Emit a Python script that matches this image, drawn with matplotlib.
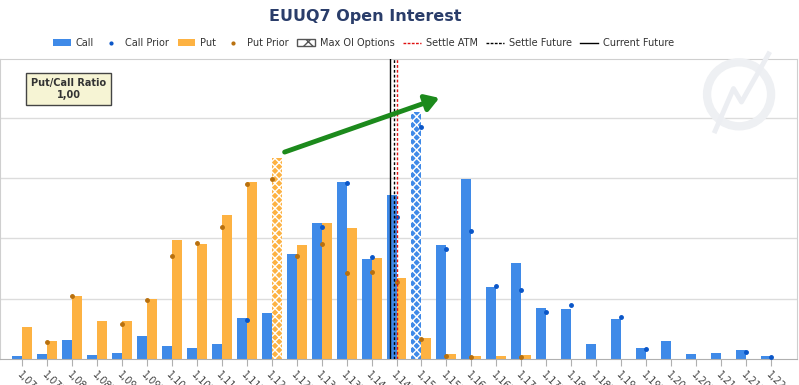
import numpy as np
import matplotlib
matplotlib.use("Agg")
import matplotlib.pyplot as plt
from matplotlib.patches import Patch, Ellipse, FancyArrowPatch
from matplotlib.lines import Line2D

# strikes and open interest (contracts)
strikes = np.round(np.arange(1.070, 1.2201, 0.005), 3)

call_oi = [40, 75, 310, 55, 90, 380, 210, 175, 245, 675, 760,
           1740, 2255, 2940, 1660, 2725, 4100, 1885, 2985, 1185, 1590,
           840, 825, 240, 665, 175, 295, 75, 90, 140, 50]
call_prior = [np.nan, np.nan, np.nan, np.nan, np.nan, np.nan, np.nan, np.nan, np.nan, 645, np.nan,
              np.nan, 2185, 2925, 1685, 2350, 3850, 1825, 2130, 1210, 1135,
              775, 885, np.nan, 690, 160, np.nan, np.nan, np.nan, 115, 35]
put_oi = [535, 295, 1035, 625, 625, 990, 1975, 1905, 2385, 2935, 3340,
          1885, 2255, 2175, 1680, 1340, 350, 80, 50, 50, 55,
          0, 0, 0, 0, 0, 0, 0, 0, 0, 0]
put_prior = [np.nan, 285, 1050, np.nan, 575, 980, 1700, 1925, 2190, 2905, 2995,
             1700, 1910, 1425, 1450, 1280, 335, 45, 35, np.nan, 35,
             np.nan, np.nan, np.nan, np.nan, np.nan, np.nan, np.nan, np.nan, np.nan, np.nan]

settle_atm = 1.145
settle_future = 1.1444
current_future = 1.1436
pc_ratio = "1,00"

call_c = "#3f8ae8"
put_c = "#fdb242"
callp_c = "#0a56c8"
putp_c = "#b8700e"

fig = plt.figure(figsize=(7.99, 3.85), dpi=100)
ax = fig.add_axes([0.0, 0.0683, 0.9975, 0.7785])
ax.patch.set_alpha(0)

w = 0.002
calls = ax.bar(strikes, call_oi, width=-w, align="edge", color=call_c, zorder=2)
puts = ax.bar(strikes, put_oi, width=w, align="edge", color=put_c, zorder=2)

# max OI bars get the cross hatch
for bars in (calls, puts):
    vals = [b.get_height() for b in bars]
    b = bars[int(np.argmax(vals))]
    b.set_hatch("xxxx")
    b.set_edgecolor("white")
    b.set_linewidth(0)

ax.plot(strikes, call_prior, ".", color=callp_c, ms=5, zorder=3)
ax.plot(strikes, put_prior, ".", color=putp_c, ms=5, zorder=3)

ax.axvline(current_future, color="black", lw=1, zorder=4)
ax.axvline(settle_future, color="black", lw=1, ls=(0, (2, 1.5)), zorder=4)
ax.axvline(settle_atm, color="#e01010", lw=1, ls=(0, (2, 1.5)), zorder=4)

ax.set_xlim(1.0656, 1.2252)
ax.set_ylim(0, 4985)
ax.set_yticks([1000, 2000, 3000, 4000])
ax.yaxis.grid(True, color="#dcdcdc", lw=1)
ax.set_axisbelow(True)
ax.tick_params(axis="y", length=0, labelleft=False)

ax.set_xticks(strikes)
ax.set_xticklabels([f"{s:.3f}".replace(".", ",") for s in strikes],
                   rotation=-45, ha="left", va="top", rotation_mode="anchor",
                   fontsize=7, color="#444444")
ax.tick_params(axis="x", length=5, color="#b0b0b0", pad=3)

for s in ["top", "right", "left"]:
    ax.spines[s].set_color("#cfcfcf")
ax.spines["bottom"].set_color("#b0b0b0")

fig.text(0.457, 0.958, "EUUQ7 Open Interest", ha="center", va="center",
         fontsize=11.5, fontweight="bold", color="#2a3d6a")

handles = [
    Patch(facecolor=call_c),
    Line2D([], [], marker=".", ls="none", color=callp_c, ms=4),
    Patch(facecolor=put_c),
    Line2D([], [], marker=".", ls="none", color=putp_c, ms=4),
    Patch(facecolor="white", edgecolor="#555555", hatch="xx", lw=1),
    Line2D([], [], color="#e01010", lw=1, ls=(0, (2, 1))),
    Line2D([], [], color="black", lw=1, ls=(0, (2, 1))),
    Line2D([], [], color="black", lw=1),
]
labels = ["Call", "Call Prior", "Put", "Put Prior", "Max OI Options",
          "Settle ATM", "Settle Future", "Current Future"]
fig.legend(handles, labels, loc="center", bbox_to_anchor=(0.455, 0.888), ncol=8,
           frameon=False, fontsize=7, handlelength=1.8, handletextpad=0.5,
           columnspacing=0.9, labelcolor="#333333")

fig.text(0.086, 0.769, "Put/Call Ratio\n" + pc_ratio, ha="center", va="center",
         fontsize=7, fontweight="bold", color="#333333", linespacing=1.3,
         bbox=dict(boxstyle="square,pad=0.5", fc="#f6f4d4", ec="#444444", lw=1))

# faint logo watermark
fig.add_artist(Ellipse((0.925, 0.755), 64 / 799, 64 / 385, transform=fig.transFigure,
                       fill=False, ec="#eef0f3", lw=6, zorder=0.5))
fig.add_artist(Line2D([0.895, 0.918, 0.928, 0.962], [0.66, 0.77, 0.735, 0.86],
                      transform=fig.transFigure, color="#eceef2", lw=3.5, zorder=0.5))

# hand-drawn green arrow
fig.add_artist(FancyArrowPatch((282 / 799, 1 - 153 / 385), (442 / 799, 1 - 97 / 385),
                               transform=fig.transFigure, arrowstyle="-|>,head_length=8,head_width=5",
                               color="#1c8a1c", lw=3.5, zorder=10))

fig.savefig("out.png", dpi=100)
